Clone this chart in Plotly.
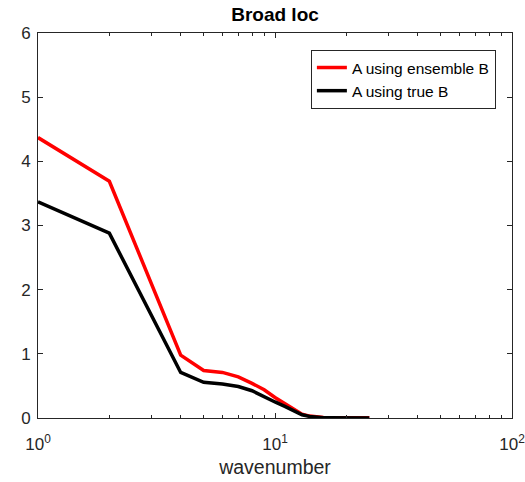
import plotly.graph_objects as go

wavenumber = [1, 2, 4, 5, 6, 7, 8, 9, 10, 11, 12, 13, 14, 15, 16, 17, 18, 19, 20, 21, 22, 23, 24, 25]
a_ensemble_b = [4.37, 3.69, 0.98, 0.74, 0.71, 0.64, 0.54, 0.44, 0.32, 0.23, 0.14, 0.06, 0.03, 0.015,
                0.008, 0.005, 0.004, 0.003, 0.003, 0.002, 0.002, 0.002, 0.002, 0.002]
a_true_b = [3.37, 2.88, 0.71, 0.556, 0.53, 0.49, 0.425, 0.34, 0.25, 0.18, 0.11, 0.05, 0.025, 0.01,
            0.005, 0.003, 0.002, 0.002, 0.001, 0.001, 0.001, 0.001, 0.001, 0.001]
series_names = ["A using ensemble B", "A using true B"]
x_tickvals = [1, 10, 100]
x_ticktext = ["10<sup>0</sup>", "10<sup>1</sup>", "10<sup>2</sup>"]
y_tickvals = [0, 1, 2, 3, 4, 5, 6]

font = "Liberation Sans, Arial, Helvetica, sans-serif"
axcol = "#262626"

fig = go.Figure()
fig.add_trace(go.Scatter(x=wavenumber, y=a_ensemble_b, mode="lines", name=series_names[0],
                         line=dict(color="#ff0000", width=3.5)))
fig.add_trace(go.Scatter(x=wavenumber, y=a_true_b, mode="lines", name=series_names[1],
                         line=dict(color="#000000", width=3.5)))

fig.update_layout(
    width=525, height=482,
    margin=dict(l=38, r=13, t=33, b=64, autoexpand=False),
    paper_bgcolor="white", plot_bgcolor="white",
    font=dict(family=font, size=17, color=axcol),
    title=dict(text="<b>Broad loc</b>", x=0.5, xref="paper", xanchor="center",
               y=1 - 14 / 482, yanchor="middle", font=dict(size=19, color="#000000")),
    showlegend=True,
    legend=dict(x=0.966, y=0.956, xanchor="right", yanchor="top",
                bordercolor=axcol, borderwidth=1, bgcolor="white",
                font=dict(size=15.5, color="#000000"), tracegroupgap=0),
)
fig.update_xaxes(
    type="log", range=[0, 2], tickvals=x_tickvals, ticktext=x_ticktext,
    ticks="inside", ticklen=5, tickcolor=axcol, showline=True, linecolor=axcol, linewidth=1,
    mirror="ticks", showgrid=False, zeroline=False, automargin=False,
    minor=dict(ticks="inside", ticklen=3, tickcolor=axcol, dtick="D1", showgrid=False),
    title=dict(text="wavenumber", font=dict(size=19.5), standoff=6),
    tickfont=dict(size=17), ticklabelstandoff=11, ticklabeloverflow="allow",
)
fig.update_yaxes(
    range=[0, 6], tickvals=y_tickvals,
    ticks="inside", ticklen=5, tickcolor=axcol, showline=True, linecolor=axcol, linewidth=1,
    mirror="ticks", showgrid=False, zeroline=False, automargin=False,
    tickfont=dict(size=17), ticklabelstandoff=3, ticklabeloverflow="allow",
)
fig.write_html("out.html")
